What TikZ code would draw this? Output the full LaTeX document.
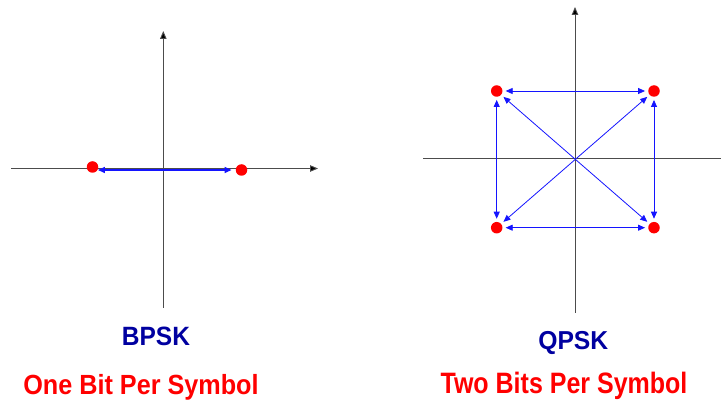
\documentclass[tikz,border=0pt]{standalone}
\usepackage{fontspec}
\usepackage{graphicx}
\setmainfont{Liberation Sans}
\usetikzlibrary{arrows.meta}
\definecolor{navy}{RGB}{0,0,160}
\definecolor{linkblue}{RGB}{20,20,255}
\begin{document}
\begin{tikzpicture}[x=1pt,y=-1pt,
  axis/.style={draw=black!70,line width=0.9pt,
    -{Triangle[length=8pt,width=6.5pt,fill=black]}},
  plainaxis/.style={draw=black!70,line width=0.9pt},
  symbol/.style={circle,fill=red,draw=none,minimum size=11.5pt,inner sep=0pt},
  link/.style={draw=linkblue,line width=0.8pt,
    {Triangle[length=7pt,width=6pt]}-{Triangle[length=7pt,width=6pt]},
    shorten <=3pt,shorten >=3pt},
  modname/.style={font=\bfseries,text=navy,anchor=base,inner sep=0pt},
  rate/.style={font=\bfseries,text=red,anchor=base,inner sep=0pt}]
\useasboundingbox (0,0) rectangle (721,403);

% BPSK constellation
\coordinate (bxl) at (11,168.5);
\coordinate (bxr) at (318,168.5);
\coordinate (byb) at (163.3,308);
\coordinate (byt) at (163.3,31);
\draw[axis] (bxl) -- (bxr);
\draw[axis] (byb) -- (byt);
\node[symbol] (b0) at (92.5,167) {};
\node[symbol] (b1) at (241.5,170) {};
\draw[link,line width=1.4pt,shorten <=-0.5pt,shorten >=4pt]
  (b0.east |- b1.center) -- (b1.west);

\node[modname] (bname) at (156,345.3)
  {\fontsize{24.5}{29}\selectfont\scalebox{1}[1.08]{BPSK}};
\node[rate] (brate) at (141,395)
  {\fontsize{25.2}{30}\selectfont\scalebox{1}[1.1]{One Bit Per Symbol}};

% QPSK constellation
\coordinate (qxl) at (423,158.3);
\coordinate (qxr) at (721,158.3);
\coordinate (qyb) at (575,313);
\coordinate (qyt) at (575,7);
\draw[plainaxis] (qxl) -- (qxr);
\draw[axis] (qyb) -- (qyt);
\node[symbol] (tl) at (496.7,91) {};
\node[symbol] (tr) at (654,91) {};
\node[symbol] (bl) at (496.7,227.7) {};
\node[symbol] (br) at (654,227.7) {};
\draw[link] (tl) -- (tr);
\draw[link] (bl) -- (br);
\draw[link] (tl) -- (bl);
\draw[link] (tr) -- (br);
\draw[link] (tl) -- (br);
\draw[link] (bl) -- (tr);

\node[modname] (qname) at (573.3,349.7)
  {\fontsize{24.7}{29}\selectfont\scalebox{1}[1.05]{QPSK}};
\node[rate] (qrate) at (564,393.3)
  {\fontsize{25}{30}\selectfont\scalebox{1}[1.18]{Two Bits Per Symbol}};
\end{tikzpicture}
\end{document}
